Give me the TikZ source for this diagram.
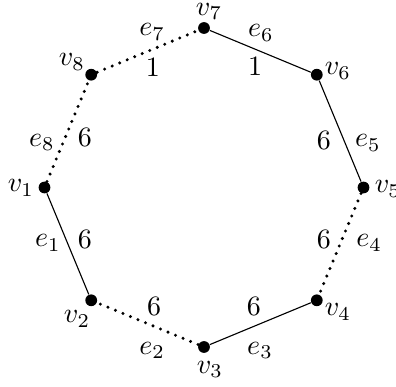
\documentclass[tikz,border=0pt]{standalone}
\begin{document}
\begin{tikzpicture}[
  vdot/.style={circle,fill=black,inner sep=0pt,minimum size=4.2pt},
  lbl/.style={inner sep=0pt},
  solidedge/.style={line width=0.4pt},
  dotedge/.style={line width=1.2pt,line cap=round,dash pattern=on 0pt off 2.9pt},
]
\useasboundingbox (-72.78pt,-70.82pt) rectangle (68.5pt,66.89pt);
% vertices
\node[vdot] (v1) at (180:2cm) {};
\node[vdot] (v2) at (225:2cm) {};
\node[vdot] (v3) at (270:2cm) {};
\node[vdot] (v4) at (315:2cm) {};
\node[vdot] (v5) at (0:2cm) {};
\node[vdot] (v6) at (45:2cm) {};
\node[vdot] (v7) at (90:2cm) {};
\node[vdot] (v8) at (135:2cm) {};
% vertex labels
\node[lbl] (lv1) at (-65.3pt,-0.2pt) {$v_1$};
\node[lbl] (lv2) at (-45.3pt,-46.9pt) {$v_2$};
\node[lbl] (lv3) at (2.1pt,-64.8pt) {$v_3$};
\node[lbl] (lv4) at (47.8pt,-44.4pt) {$v_4$};
\node[lbl] (lv5) at (65.6pt,-0.5pt) {$v_5$};
\node[lbl] (lv6) at (47.8pt,41.6pt) {$v_6$};
\node[lbl] (lv7) at (1.8pt,62.9pt) {$v_7$};
\node[lbl] (lv8) at (-47.1pt,44.8pt) {$v_8$};
% edges
\draw[dotedge] (v8) -- (v7);
\draw[solidedge] (v7) -- (v6);
\draw[solidedge] (v6) -- (v5);
\draw[dotedge] (v5) -- (v4);
\draw[solidedge] (v4) -- (v3);
\draw[dotedge] (v3) -- (v2);
\draw[solidedge] (v2) -- (v1);
\draw[dotedge] (v1) -- (v8);
% edge names
\node[lbl] (le7) at (-18.5pt,55.5pt) {$e_7$};
\node[lbl] (le6) at (20.3pt,55.1pt) {$e_6$};
\node[lbl] (le5) at (58.5pt,15.9pt) {$e_5$};
\node[lbl] (le4) at (58.9pt,-19.8pt) {$e_4$};
\node[lbl] (le3) at (20.0pt,-58.0pt) {$e_3$};
\node[lbl] (le2) at (-18.5pt,-58.0pt) {$e_2$};
\node[lbl] (le1) at (-55.7pt,-19.8pt) {$e_1$};
\node[lbl] (le8) at (-57.8pt,16.2pt) {$e_8$};
% weights
\node[lbl] (w7) at (-18.2pt,43.0pt) {$1$};
\node[lbl] (w6) at (18.2pt,43.3pt) {$1$};
\node[lbl] (w5) at (42.8pt,16.9pt) {$6$};
\node[lbl] (w4) at (42.8pt,-18.7pt) {$6$};
\node[lbl] (w3) at (17.8pt,-42.6pt) {$6$};
\node[lbl] (w2) at (-17.8pt,-42.6pt) {$6$};
\node[lbl] (w1) at (-42.5pt,-18.7pt) {$6$};
\node[lbl] (w8) at (-42.5pt,17.7pt) {$6$};
\end{tikzpicture}
\end{document}
